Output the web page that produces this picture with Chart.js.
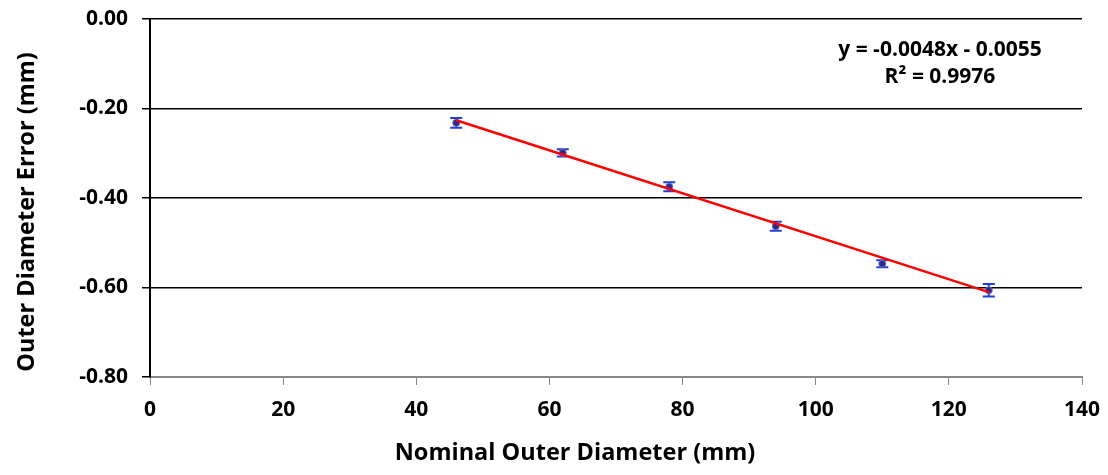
<!DOCTYPE html>
<html>
<head>
<meta charset="utf-8">
<script src="https://cdn.jsdelivr.net/npm/chart.js@4.4.1/dist/chart.umd.min.js"></script>
<style>
  html, body { margin: 0; padding: 0; background: #fff; }
  #wrap { width: 1108px; height: 475px; }
</style>
</head>
<body>
<div id="wrap"><canvas id="chart" width="1108" height="475"></canvas></div>
<script>
// data
const nominalOD = [46, 62, 78, 94, 110, 126];
const odError = [-0.232, -0.299, -0.375, -0.463, -0.547, -0.606];
const odErrorBar = [0.011, 0.008, 0.010, 0.010, 0.008, 0.014];

// linear trend shown on the chart
const slope = -0.0048;
const intercept = -0.0055;
const r2 = 0.9976;

const yTicks = [0, -0.2, -0.4, -0.6, -0.8];
const xTicks = [0, 20, 40, 60, 80, 100, 120, 140];

const fontFamily = '"Open Sans", Lato, sans-serif';

const points = nominalOD.map((x, i) => ({x: x, y: odError[i]}));
const xMin = Math.min(...nominalOD), xMax = Math.max(...nominalOD);
const trend = [xMin, xMax].map(x => ({x: x, y: slope * x + intercept}));

const errorBars = {
    id: 'errorBars',
    beforeDatasetDraw(chart, args) {
        if (args.index !== 1) return;
        const ctx = chart.ctx;
        const xs = chart.scales.x, ys = chart.scales.y;
        ctx.save();
        ctx.strokeStyle = '#1f3fd6';
        ctx.lineWidth = 2;
        nominalOD.forEach((x, i) => {
            const px = xs.getPixelForValue(x);
            const top = ys.getPixelForValue(odError[i] + odErrorBar[i]);
            const bot = ys.getPixelForValue(odError[i] - odErrorBar[i]);
            ctx.beginPath();
            ctx.moveTo(px, top); ctx.lineTo(px, bot);
            ctx.moveTo(px - 6, top); ctx.lineTo(px + 6, top);
            ctx.moveTo(px - 6, bot); ctx.lineTo(px + 6, bot);
            ctx.stroke();
        });
        ctx.restore();
    }
};

const labels = {
    id: 'labels',
    afterDraw(chart) {
        const ctx = chart.ctx;
        ctx.save();
        ctx.fillStyle = '#000';
        ctx.textAlign = 'center';
        ctx.textBaseline = 'middle';
        ctx.font = 'bold 23.5px ' + fontFamily;
        ctx.fillText('Nominal Outer Diameter (mm)', 575, 453);
        ctx.save();
        ctx.translate(27, 212);
        ctx.rotate(-Math.PI / 2);
        ctx.fillText('Outer Diameter Error (mm)', 0, 0);
        ctx.restore();
        ctx.font = 'bold 21px ' + fontFamily;
        ctx.fillText('y = ' + slope.toFixed(4) + 'x - ' + Math.abs(intercept).toFixed(4), 940, 50);
        ctx.fillText('R\u00b2 = ' + r2.toFixed(4), 940, 77);
        ctx.restore();
    }
};

new Chart(document.getElementById('chart'), {
    type: 'scatter',
    data: {
        datasets: [{
            label: 'Linear trend',
            data: trend,
            showLine: true,
            borderColor: '#ff0000',
            borderWidth: 2.5,
            pointRadius: 0,
            fill: false
        }, {
            label: 'OD error',
            data: points,
            pointStyle: 'circle',
            pointRadius: 3.5,
            backgroundColor: '#2a2a8c',
            borderColor: '#6a6ab8',
            borderWidth: 1
        }]
    },
    options: {
        responsive: false,
        animation: false,
        layout: {padding: {top: 19, right: 26, left: 0, bottom: 0}},
        plugins: {legend: {display: false}, tooltip: {enabled: false}},
        scales: {
            x: {
                type: 'linear',
                min: 0, max: 140,
                afterBuildTicks: s => { s.ticks = xTicks.map(v => ({value: v})); },
                afterFit: s => { s.height = 98; s.paddingLeft = 0; s.paddingRight = 0; },
                border: {color: '#888', width: 2},
                grid: {drawOnChartArea: false, tickLength: 8, color: '#888', lineWidth: 1},
                ticks: {
                    color: '#000', padding: 12,
                    font: {family: fontFamily, size: 21, weight: 'bold'}
                }
            },
            y: {
                min: -0.8, max: 0,
                afterBuildTicks: s => { s.ticks = yTicks.map(v => ({value: v})); },
                afterFit: s => { s.width = 150; s.paddingTop = 0; s.paddingBottom = 0; },
                border: {color: '#000', width: 2},
                grid: {
                    color: ctx => ctx.tick && ctx.tick.value === -0.8 ? 'rgba(0,0,0,0)' : '#000',
                    lineWidth: 1.5, tickLength: 8, tickColor: '#000'
                },
                ticks: {
                    color: '#000', padding: 14,
                    font: {family: fontFamily, size: 21, weight: 'bold'},
                    callback: v => v.toFixed(2)
                }
            }
        }
    },
    plugins: [errorBars, labels]
});
</script>
</body>
</html>
